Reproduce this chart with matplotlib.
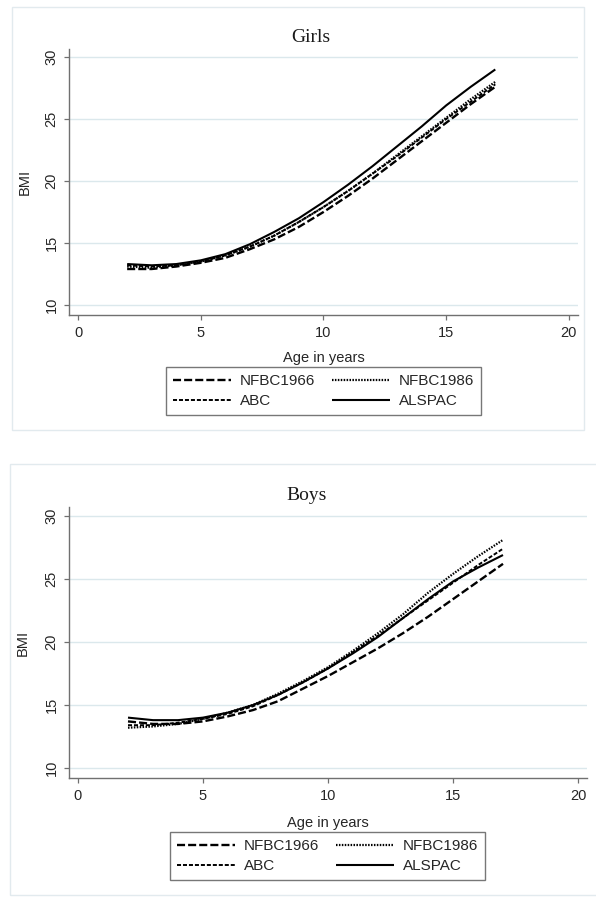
import matplotlib
matplotlib.use("Agg")
import matplotlib.pyplot as plt
from matplotlib.patches import Rectangle

plt.rcParams['font.family'] = ['Liberation Sans', 'DejaVu Sans']
plt.rcParams['lines.scale_dashes'] = False

# ---------------- data ----------------
ages = [2, 3, 4, 5, 6, 7, 8, 9, 10, 11, 12, 13, 14, 15, 16, 17]
series_names = ["NFBC1966", "NFBC1986", "ABC", "ALSPAC"]

girls_nfbc1966 = [12.9, 12.9, 13.1, 13.4, 13.8, 14.5, 15.3, 16.3, 17.5, 18.8, 20.2, 21.7, 23.2, 24.7, 26.2, 27.6]
girls_nfbc1986 = [13.1, 13.0, 13.2, 13.5, 14.0, 14.7, 15.6, 16.7, 17.9, 19.2, 20.6, 22.1, 23.6, 25.1, 26.6, 28.0]
girls_abc      = [13.2, 13.1, 13.2, 13.5, 14.0, 14.7, 15.6, 16.7, 17.9, 19.2, 20.6, 22.0, 23.5, 25.0, 26.4, 27.8]
girls_alspac   = [13.3, 13.2, 13.3, 13.6, 14.1, 14.9, 15.9, 17.0, 18.3, 19.7, 21.2, 22.8, 24.4, 26.1, 27.6, 29.0]

boys_nfbc1966 = [13.7, 13.5, 13.5, 13.7, 14.1, 14.6, 15.3, 16.3, 17.3, 18.4, 19.5, 20.7, 22.0, 23.4, 24.8, 26.2]
boys_nfbc1986 = [13.2, 13.3, 13.5, 13.9, 14.4, 15.0, 15.9, 16.9, 18.0, 19.3, 20.7, 22.2, 23.9, 25.4, 26.8, 28.1]
boys_abc      = [13.4, 13.4, 13.6, 13.9, 14.3, 14.9, 15.8, 16.8, 17.9, 19.2, 20.5, 21.9, 23.3, 24.7, 26.1, 27.4]
boys_alspac   = [14.0, 13.8, 13.8, 14.0, 14.4, 15.0, 15.8, 16.8, 17.9, 19.1, 20.4, 21.9, 23.4, 24.8, 25.9, 26.9]

x_ticks = [0, 5, 10, 15, 20]
y_ticks = [10, 15, 20, 25, 30]

# ---------------- styles ----------------
styles = {
    "NFBC1966": dict(linestyle=(0, (5.8, 2.2)), lw=1.7),
    "NFBC1986": dict(linestyle=(0, (1.1, 1.0)), lw=1.6),
    "ABC":      dict(linestyle=(0, (2.9, 1.4)), lw=1.4),
    "ALSPAC":   dict(linestyle='-', lw=1.5),
}

W, H = 596, 899
fig = plt.figure(figsize=(W / 100, H / 100), dpi=100)
fig.patch.set_facecolor('white')

def fx(px):
    return px / W

def fy(py):
    return 1 - py / H

# outer panel frames
fig.add_artist(Rectangle((fx(12), fy(430)), fx(572), 423 / H, transform=fig.transFigure,
                         fill=False, ec='#e2eaee', lw=1.0))
fig.add_artist(Rectangle((fx(10), fy(895)), fx(600), 431 / H, transform=fig.transFigure,
                         fill=False, ec='#e2eaee', lw=1.0))

panels = [
    dict(title="Girls", data=[girls_nfbc1966, girls_nfbc1986, girls_abc, girls_alspac],
         box=(69, 578, 49, 315), xlim=(-0.37, 20.37), ylim=(9.19, 30.65),
         title_xy=(311, 37), legend_c=(323.5, 391), ylab_x=-0.073, xlab_y=-0.135),
    dict(title="Boys", data=[boys_nfbc1966, boys_nfbc1986, boys_abc, boys_alspac],
         box=(69, 587, 507, 778), xlim=(-0.36, 20.36), ylim=(9.21, 30.71),
         title_xy=(307, 495), legend_c=(327.5, 856), ylab_x=-0.075, xlab_y=-0.140),
]

# column-major fill so rows read: NFBC1966 | NFBC1986 ; ABC | ALSPAC
legend_order = ["NFBC1966", "ABC", "NFBC1986", "ALSPAC"]

for p in panels:
    l, r, t, b = p["box"]
    ax = fig.add_axes([fx(l), fy(b), (r - l) / W, (b - t) / H])
    lines = {}
    for name, vals in zip(series_names, p["data"]):
        ln, = ax.plot(ages, vals, color='black', label=name, solid_capstyle='butt',
                      dash_capstyle='butt', **styles[name])
        lines[name] = ln
    ax.set_xlim(*p["xlim"])
    ax.set_ylim(*p["ylim"])
    ax.set_xticks(x_ticks)
    ax.set_yticks(y_ticks)
    for yv in y_ticks:
        ax.axhline(yv, color='#dbe8ec', lw=1.0, zorder=0)
    for s in ['top', 'right']:
        ax.spines[s].set_visible(False)
    for s in ['left', 'bottom']:
        ax.spines[s].set_color('#707070')
        ax.spines[s].set_linewidth(1.0)
    ax.tick_params(axis='both', direction='out', length=3.6, width=0.9, color='#707070',
                   labelsize=10.5, labelcolor='#262626', pad=4)
    for lab in ax.get_yticklabels():
        lab.set_rotation(90)
        lab.set_va('center')
    ax.set_ylabel("BMI", fontsize=10.5, color='#262626')
    ax.yaxis.set_label_coords(p["ylab_x"], 0.5)
    ax.set_xlabel("Age in years", fontsize=10.5, color='#262626')
    ax.xaxis.set_label_coords(0.5, p["xlab_y"])
    fig.text(fx(p["title_xy"][0]), fy(p["title_xy"][1]), p["title"], ha='center', va='center',
             fontsize=14, family=['Liberation Serif', 'DejaVu Serif'], color='#1a1a1a')
    leg = fig.legend([lines[n] for n in legend_order], legend_order, loc='center',
                     bbox_to_anchor=(fx(p["legend_c"][0]), fy(p["legend_c"][1])),
                     bbox_transform=fig.transFigure, ncol=2, fontsize=11,
                     frameon=True, fancybox=False, edgecolor='#555555',
                     handlelength=3.8, handletextpad=0.6, columnspacing=1.1,
                     labelspacing=0.38, borderpad=0.45, borderaxespad=0)
    leg.get_frame().set_linewidth(1.0)
    for txt in leg.get_texts():
        txt.set_color('#262626')

fig.savefig("out.png", dpi=100, facecolor='white')
